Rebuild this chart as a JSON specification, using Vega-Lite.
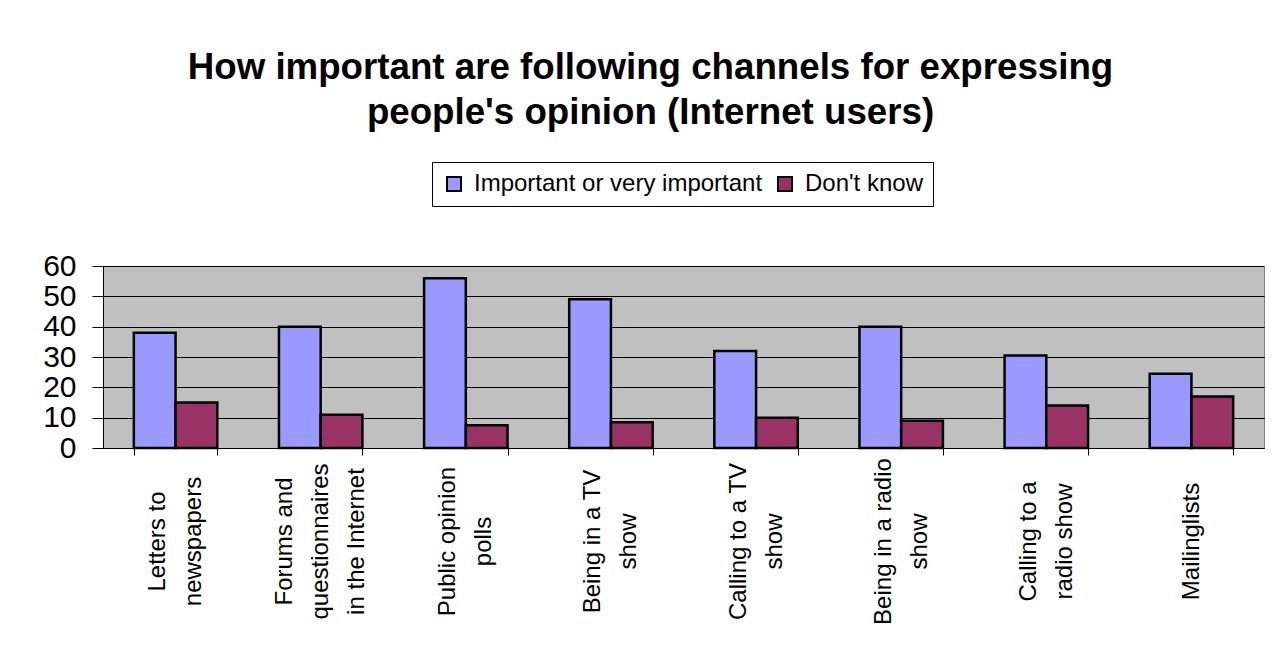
{
  "$schema": "https://vega.github.io/schema/vega-lite/v6.json",
  "width": 1161,
  "height": 182,
  "autosize": {"type": "none"},
  "padding": {"left": 103, "top": 266, "right": 12, "bottom": 208},
  "background": "white",
  "title": {
    "text": ["How important are following channels for expressing", "people's opinion (Internet users)"],
    "font": "Liberation Sans",
    "fontSize": 36.7,
    "fontWeight": "bold",
    "lineHeight": 45,
    "color": "black",
    "anchor": "middle",
    "dx": -33,
    "offset": 30
  },
  "data": {
    "values": [
      {"channel": "Letters to newspapers", "series": "Important or very important", "value": 38},
      {"channel": "Letters to newspapers", "series": "Don't know", "value": 15},
      {"channel": "Forums and questionnaires in the Internet", "series": "Important or very important", "value": 40},
      {"channel": "Forums and questionnaires in the Internet", "series": "Don't know", "value": 11},
      {"channel": "Public opinion polls", "series": "Important or very important", "value": 56},
      {"channel": "Public opinion polls", "series": "Don't know", "value": 7.5},
      {"channel": "Being in a TV show", "series": "Important or very important", "value": 49},
      {"channel": "Being in a TV show", "series": "Don't know", "value": 8.5},
      {"channel": "Calling to a TV show", "series": "Important or very important", "value": 32},
      {"channel": "Calling to a TV show", "series": "Don't know", "value": 10},
      {"channel": "Being in a radio show", "series": "Important or very important", "value": 40},
      {"channel": "Being in a radio show", "series": "Don't know", "value": 9},
      {"channel": "Calling to a radio show", "series": "Important or very important", "value": 30.5},
      {"channel": "Calling to a radio show", "series": "Don't know", "value": 14},
      {"channel": "Mailinglists", "series": "Important or very important", "value": 24.5},
      {"channel": "Mailinglists", "series": "Don't know", "value": 17}
    ]
  },
  "mark": {"type": "bar", "stroke": "black", "strokeWidth": 2.5},
  "encoding": {
    "x": {
      "field": "channel",
      "type": "nominal",
      "sort": null,
      "scale": {"paddingInner": 0.425, "paddingOuter": 0.2125},
      "axis": {
        "title": null,
        "labelAngle": -90,
        "labelAlign": "center",
        "labelBaseline": "middle",
        "labelPadding": 86,
        "labelFontSize": 24,
        "labelLineHeight": 36,
        "labelLimit": 0,
        "labelOverlap": false,
        "labelBound": false,
        "labelFlush": false,
        "labelOffset": {
          "condition": [
            {"test": "datum.value == 'Mailinglists'", "value": 0},
            {"test": "datum.value == 'Forums and questionnaires in the Internet'", "value": -36}
          ],
          "value": -18
        },
        "tickBand": "extent",
        "tickSize": 7,
        "labelExpr": "datum.label == 'Letters to newspapers' ? ['Letters to', 'newspapers'] : datum.label == 'Forums and questionnaires in the Internet' ? ['Forums and', 'questionnaires', 'in the Internet'] : datum.label == 'Public opinion polls' ? ['Public opinion', 'polls'] : datum.label == 'Being in a TV show' ? ['Being in a TV', 'show'] : datum.label == 'Calling to a TV show' ? ['Calling to a TV', 'show'] : datum.label == 'Being in a radio show' ? ['Being in a radio', 'show'] : datum.label == 'Calling to a radio show' ? ['Calling to a', 'radio show'] : datum.label"
      }
    },
    "xOffset": {
      "field": "series",
      "type": "nominal",
      "sort": ["Important or very important", "Don't know"],
      "scale": {"paddingInner": 0, "paddingOuter": 0}
    },
    "y": {
      "field": "value",
      "type": "quantitative",
      "scale": {"domain": [0, 60], "nice": false},
      "axis": {
        "title": null,
        "values": [0, 10, 20, 30, 40, 50, 60],
        "labelFontSize": 30,
        "labelPadding": 16,
        "tickSize": 11,
        "grid": true
      }
    },
    "color": {
      "field": "series",
      "type": "nominal",
      "sort": ["Important or very important", "Don't know"],
      "scale": {"domain": ["Important or very important", "Don't know"], "range": ["#9999FF", "#993366"]},
      "legend": {
        "title": null,
        "orient": "none",
        "legendX": 329,
        "legendY": -104,
        "direction": "horizontal",
        "columns": 2,
        "strokeColor": "black",
        "fillColor": "white",
        "padding": {"expr": "10"},
        "labelFontSize": 24,
        "labelLimit": 0,
        "labelOffset": 8,
        "columnPadding": 10,
        "symbolType": "square",
        "symbolSize": 196,
        "symbolStrokeColor": "black",
        "symbolStrokeWidth": 2,
        "symbolOpacity": 1
      }
    }
  },
  "config": {
    "font": "Liberation Sans",
    "view": {"fill": "#C0C0C0", "stroke": "#808080", "strokeWidth": 1},
    "axis": {
      "labelFont": "Liberation Sans",
      "labelColor": "black",
      "domainColor": "black",
      "domainWidth": 1,
      "tickColor": "black",
      "tickWidth": 1,
      "gridColor": "black",
      "gridWidth": 1,
      "gridOpacity": 1
    },
    "legend": {"labelFont": "Liberation Sans", "labelColor": "black"}
  }
}
